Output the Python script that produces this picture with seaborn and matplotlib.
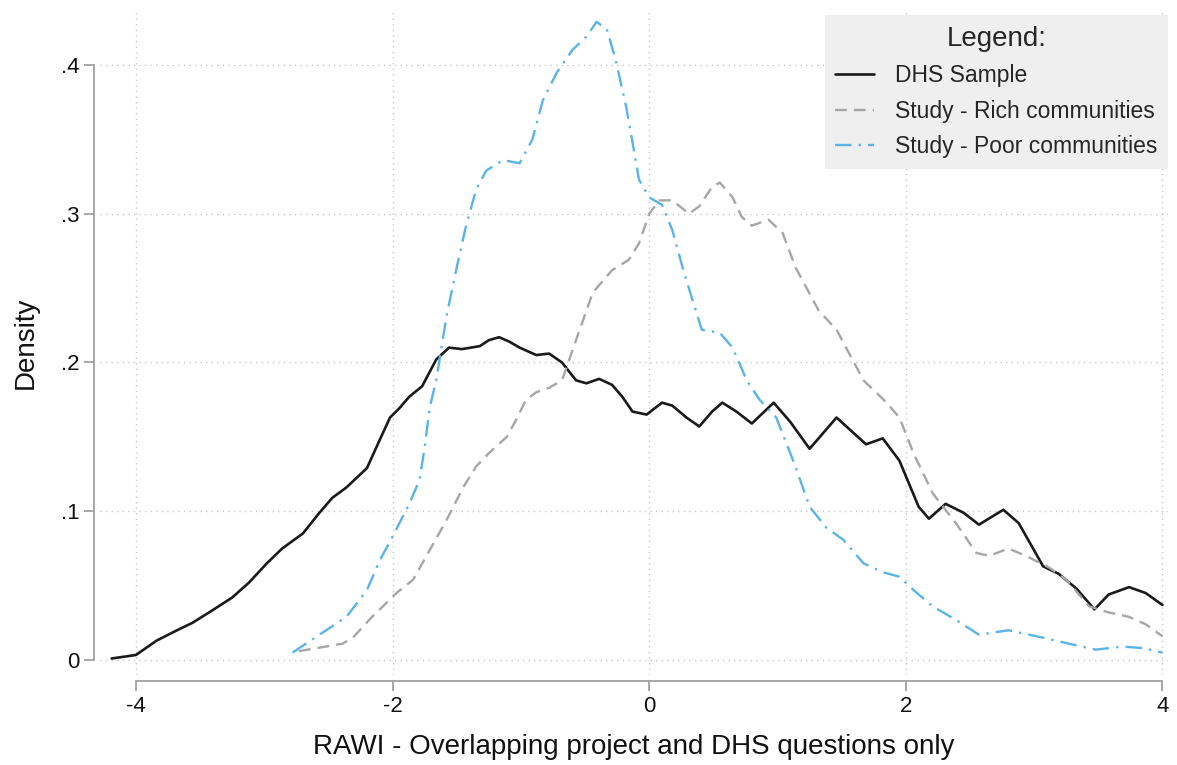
import numpy as np
import pandas as pd
import matplotlib
matplotlib.use("Agg")
import matplotlib.pyplot as plt
import seaborn as sns
from matplotlib.lines import Line2D

# ---- data ----
dhs_x = [-4.19, -4.0, -3.84, -3.68, -3.56, -3.43, -3.25, -3.12, -2.98, -2.86, -2.70, -2.57, -2.47,
         -2.36, -2.20, -2.10, -2.02, -1.95, -1.87, -1.77, -1.66, -1.56, -1.46, -1.32, -1.25, -1.17,
         -1.09, -1.01, -0.88, -0.78, -0.68, -0.57, -0.49, -0.39, -0.29, -0.21, -0.13, -0.02, 0.10,
         0.18, 0.29, 0.39, 0.49, 0.57, 0.68, 0.80, 0.97, 1.10, 1.25, 1.46, 1.69, 1.82, 1.95, 2.10,
         2.18, 2.31, 2.45, 2.57, 2.76, 2.88, 3.07, 3.19, 3.33, 3.47, 3.58, 3.74, 3.87, 4.0]
dhs_y = [0.001, 0.0034, 0.013, 0.020, 0.025, 0.032, 0.042, 0.052, 0.065, 0.075, 0.085, 0.099, 0.109,
         0.116, 0.129, 0.148, 0.163, 0.169, 0.177, 0.184, 0.202, 0.210, 0.209, 0.211, 0.215, 0.217,
         0.214, 0.210, 0.205, 0.206, 0.200, 0.188, 0.186, 0.189, 0.185, 0.177, 0.167, 0.165, 0.173,
         0.171, 0.163, 0.157, 0.167, 0.173, 0.167, 0.159, 0.173, 0.160, 0.142, 0.163, 0.145, 0.149,
         0.134, 0.103, 0.095, 0.105, 0.099, 0.091, 0.101, 0.092, 0.063, 0.058, 0.048, 0.034, 0.044,
         0.049, 0.045, 0.037]

rich_x = [-2.73, -2.59, -2.39, -2.31, -2.16, -2.10, -1.97, -1.84, -1.71, -1.58, -1.45, -1.35, -1.25,
          -1.11, -1.04, -0.96, -0.88, -0.78, -0.68, -0.55, -0.44, -0.29, -0.16, -0.08, 0.0, 0.08,
          0.18, 0.31, 0.39, 0.49, 0.55, 0.65, 0.72, 0.80, 0.93, 1.04, 1.14, 1.32, 1.46, 1.67, 1.85,
          1.95, 2.06, 2.21, 2.39, 2.55, 2.65, 2.80, 2.96, 3.12, 3.25, 3.43, 3.58, 3.74, 3.87, 4.0]
rich_y = [0.006, 0.008, 0.011, 0.015, 0.029, 0.034, 0.045, 0.054, 0.074, 0.094, 0.116, 0.130, 0.139,
          0.150, 0.161, 0.175, 0.180, 0.183, 0.188, 0.220, 0.247, 0.262, 0.269, 0.280, 0.300, 0.309,
          0.309, 0.300, 0.305, 0.318, 0.321, 0.311, 0.298, 0.292, 0.296, 0.287, 0.264, 0.235, 0.222,
          0.188, 0.173, 0.163, 0.139, 0.112, 0.092, 0.072, 0.070, 0.075, 0.069, 0.062, 0.054, 0.036,
          0.032, 0.029, 0.024, 0.016]

poor_x = [-2.78, -2.57, -2.36, -2.20, -2.10, -2.0, -1.87, -1.79, -1.75, -1.71, -1.66, -1.58, -1.50,
          -1.43, -1.35, -1.27, -1.14, -1.01, -0.91, -0.83, -0.72, -0.60, -0.49, -0.41, -0.33, -0.26,
          -0.18, -0.13, -0.08, 0.0, 0.10, 0.18, 0.26, 0.33, 0.41, 0.55, 0.65, 0.76, 0.86, 0.99, 1.14,
          1.25, 1.38, 1.51, 1.67, 1.82, 1.95, 2.06, 2.21, 2.39, 2.57, 2.80, 3.07, 3.27, 3.48, 3.69,
          3.85, 4.0]
poor_y = [0.005, 0.017, 0.029, 0.047, 0.067, 0.083, 0.105, 0.121, 0.143, 0.170, 0.188, 0.231, 0.264,
          0.291, 0.316, 0.329, 0.336, 0.334, 0.350, 0.376, 0.395, 0.410, 0.419, 0.429, 0.424, 0.403,
          0.372, 0.348, 0.323, 0.311, 0.306, 0.289, 0.264, 0.244, 0.222, 0.220, 0.210, 0.188, 0.175,
          0.163, 0.130, 0.103, 0.089, 0.081, 0.065, 0.059, 0.056, 0.047, 0.036, 0.027, 0.017, 0.020,
          0.015, 0.011, 0.007, 0.009, 0.008, 0.005]

series_names = ["DHS Sample", "Study - Rich communities", "Study - Poor communities"]
x_ticks = [-4, -2, 0, 2, 4]
y_ticks = [0, 0.1, 0.2, 0.3, 0.4]
y_tick_labels = ["0", ".1", ".2", ".3", ".4"]

# ---- plot ----
sns.set_theme(style="white")
plt.rcParams["font.family"] = ["Liberation Sans", "DejaVu Sans"]

fig = plt.figure(figsize=(11.77, 7.65), dpi=100)
ax = fig.add_axes([0.085, 0.1176, 0.907, 0.8694])

colors = ["#1a1a1a", "#a6a6a6", "#5ab4e5"]
styles = ["-", (0, (5, 3)), (0, (7, 3, 1, 3))]
widths = [1.9, 1.7, 1.7]

for name, xs, ys, c, ls, lw in zip(series_names, [dhs_x, rich_x, poor_x],
                                   [dhs_y, rich_y, poor_y], colors, styles, widths):
    df = pd.DataFrame({"x": xs, "y": ys})
    sns.lineplot(data=df, x="x", y="y", ax=ax, color=c, linestyle=ls, linewidth=lw,
                 estimator=None, sort=False, zorder=3)

ax.set_xlim(-4.28, 4.04)
ax.set_ylim(-0.0101, 0.437)
ax.set_xticks(x_ticks)
ax.set_xticklabels([str(t) for t in x_ticks])
ax.set_yticks(y_ticks)
ax.set_yticklabels(y_tick_labels)

ax.grid(True, linestyle=(0, (1, 3)), color="#c8c8c8", linewidth=1.0)
for s in ["top", "right"]:
    ax.spines[s].set_visible(False)
for s in ["left", "bottom"]:
    ax.spines[s].set_color("#a0a0a0")
    ax.spines[s].set_linewidth(1.3)
    ax.spines[s].set_position(("outward", 4))
ax.spines["left"].set_bounds(0, 0.4)
ax.spines["bottom"].set_bounds(-4, 4)

ax.tick_params(axis="both", which="major", direction="out", length=7, width=1.3,
               color="#a0a0a0", labelsize=16, labelcolor="#111111", pad=4)
ax.tick_params(left=True, bottom=True)

ax.set_xlabel("RAWI - Overlapping project and DHS questions only", fontsize=20, color="#111111",
              labelpad=12)
ax.set_ylabel("Density", fontsize=20, color="#111111", labelpad=16)

handles = [Line2D([0], [0], color=c, linestyle=ls, linewidth=lw) for c, ls, lw in
           zip(colors, styles, widths)]
leg = ax.legend(handles, series_names, title="Legend:", loc="upper right",
                bbox_to_anchor=(1.0, 0.992), borderaxespad=0.0, fontsize=16.5,
                title_fontsize=20, frameon=True, fancybox=False, facecolor="#efefef",
                edgecolor="#efefef", framealpha=1, handlelength=1.7, handletextpad=0.9,
                labelspacing=0.55, borderpad=0.45)
leg.get_frame().set_linewidth(0)

fig.savefig("out.png", dpi=100, facecolor="white")
